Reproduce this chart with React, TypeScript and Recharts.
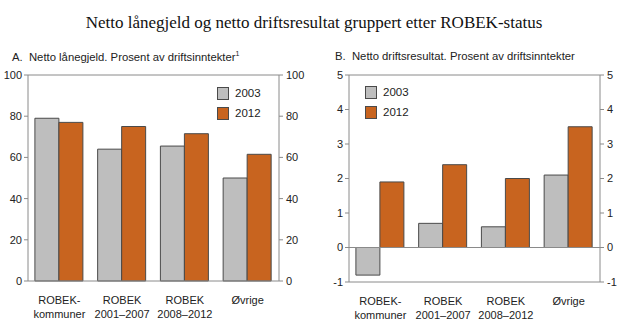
import React from "react";
import { ComposedChart, Bar, Line, XAxis, YAxis, ReferenceLine } from "recharts";

const CATEGORIES = [["ROBEK-", "kommuner"], ["ROBEK", "2001–2007"], ["ROBEK", "2008–2012"], ["Øvrige"]];
const SERIES_NAMES = ["2003", "2012"];
const GJELD_2003 = [79, 64, 65.5, 50];
const GJELD_2012 = [77, 75, 71.5, 61.5];
const DRIFT_2003 = [-0.8, 0.7, 0.6, 2.1];
const DRIFT_2012 = [1.9, 2.4, 2.0, 3.5];
const TICKS_A = [0, 20, 40, 60, 80, 100];
const TICKS_B = [-1, 0, 1, 2, 3, 4, 5];

const GRAY = "#bebebe";
const ORANGE = "#c8641f";
const EDGE = "#4a4a4a";
const AXIS = "#8a8a8a";
const FONT = "'Liberation Sans', Arial, sans-serif";

const dataA = CATEGORIES.map((c, i) => ({ key: i, y03: GJELD_2003[i], y12: GJELD_2012[i] }));
const dataB = CATEGORIES.map((c, i) => ({ key: i, y03: DRIFT_2003[i], y12: DRIFT_2012[i] }));

function CatTick({ x, y, payload }: { x?: number; y?: number; payload?: { value: number } }) {
  const lines = CATEGORIES[payload?.value ?? 0] ?? [];
  return (
    <text x={x} y={(y ?? 0) + 4} textAnchor="middle" fontSize={11} fontFamily={FONT} fill="#222">
      {lines.map((l, i) => (
        <tspan key={i} x={x} dy={i === 0 ? 11 : 14}>{l}</tspan>
      ))}
    </text>
  );
}

function LegendBox({ left, top }: { left: number; top: number }) {
  const colors = [GRAY, ORANGE];
  return (
    <div style={{ position: "absolute", left, top, fontFamily: FONT, fontSize: 11.5, color: "#222" }}>
      {SERIES_NAMES.map((n, i) => (
        <div key={n} style={{ display: "flex", alignItems: "center", height: 20 }}>
          <span style={{ width: 10, height: 11, background: colors[i], border: `1px solid ${EDGE}`, display: "inline-block", marginRight: 6 }} />
          {n}
        </div>
      ))}
    </div>
  );
}

const tickStyle = { fontSize: 11, fill: "#222", fontFamily: FONT };

export default function App() {
  return (
    <div style={{ position: "absolute", left: 0, top: 0, width: 620, height: 330, background: "#fff" }}>
      <div style={{ position: "absolute", left: 0, top: 0 }}>
        <ComposedChart width={310} height={330} data={dataA} margin={{ top: 75, right: 0, left: 0, bottom: 0 }} barCategoryGap="11%" barGap={0}>
          <XAxis dataKey="key" height={49} tick={<CatTick />} tickLine={false} axisLine={{ stroke: AXIS }} interval={0} />
          <YAxis yAxisId="l" domain={[0, 100]} ticks={TICKS_A} width={28} tick={tickStyle} tickSize={4} tickMargin={2} axisLine={{ stroke: AXIS }} tickLine={{ stroke: AXIS }} />
          <YAxis yAxisId="r" orientation="right" domain={[0, 100]} ticks={TICKS_A} width={31} tick={tickStyle} tickSize={4} tickMargin={3} axisLine={{ stroke: AXIS }} tickLine={{ stroke: AXIS }} />
          <ReferenceLine yAxisId="l" y={100} stroke={AXIS} />
          <Bar yAxisId="l" dataKey="y03" name="2003" fill={GRAY} stroke={EDGE} strokeWidth={1} isAnimationActive={false} />
          <Bar yAxisId="l" dataKey="y12" name="2012" fill={ORANGE} stroke={EDGE} strokeWidth={1} isAnimationActive={false} />
          <Line yAxisId="r" dataKey="y12" stroke="none" dot={false} activeDot={false} legendType="none" isAnimationActive={false} />
        </ComposedChart>
      </div>

      <div style={{ position: "absolute", left: 310, top: 0 }}>
        <ComposedChart width={310} height={330} data={dataB} margin={{ top: 75, right: 0, left: 0, bottom: 0 }} barCategoryGap="11%" barGap={0}>
          <XAxis dataKey="key" height={48} tick={<CatTick />} tickLine={false} axisLine={{ stroke: AXIS }} interval={0} />
          <YAxis yAxisId="l" domain={[-1, 5]} ticks={TICKS_B} width={39} tick={tickStyle} tickSize={4} tickMargin={2} axisLine={{ stroke: AXIS }} tickLine={{ stroke: AXIS }} />
          <YAxis yAxisId="r" orientation="right" domain={[-1, 5]} ticks={TICKS_B} width={20} tick={tickStyle} tickSize={4} tickMargin={3} axisLine={{ stroke: AXIS }} tickLine={{ stroke: AXIS }} />
          <ReferenceLine yAxisId="l" y={5} stroke={AXIS} />
          <ReferenceLine yAxisId="l" y={0} stroke={AXIS} />
          <Bar yAxisId="l" dataKey="y03" name="2003" fill={GRAY} stroke={EDGE} strokeWidth={1} isAnimationActive={false} />
          <Bar yAxisId="l" dataKey="y12" name="2012" fill={ORANGE} stroke={EDGE} strokeWidth={1} isAnimationActive={false} />
          <Line yAxisId="r" dataKey="y12" stroke="none" dot={false} activeDot={false} legendType="none" isAnimationActive={false} />
        </ComposedChart>
      </div>

      <div style={{ position: "absolute", top: 13, left: 0, width: 628, textAlign: "center", fontFamily: "'Liberation Serif', 'Times New Roman', serif", fontSize: 17, color: "#111" }}>
        Netto lånegjeld og netto driftsresultat gruppert etter ROBEK-status
      </div>
      <div style={{ position: "absolute", top: 50, left: 12, fontFamily: FONT, fontSize: 11.3, color: "#222", whiteSpace: "nowrap" }}>
        A.&nbsp;&nbsp;Netto lånegjeld. Prosent av driftsinntekter<sup style={{ fontSize: 7 }}>1</sup>
      </div>
      <div style={{ position: "absolute", top: 50, left: 335, fontFamily: FONT, fontSize: 11.3, color: "#222", whiteSpace: "nowrap" }}>
        B.&nbsp;&nbsp;Netto driftsresultat. Prosent av driftsinntekter
      </div>
      <LegendBox left={217} top={83} />
      <LegendBox left={365} top={82} />
    </div>
  );
}
